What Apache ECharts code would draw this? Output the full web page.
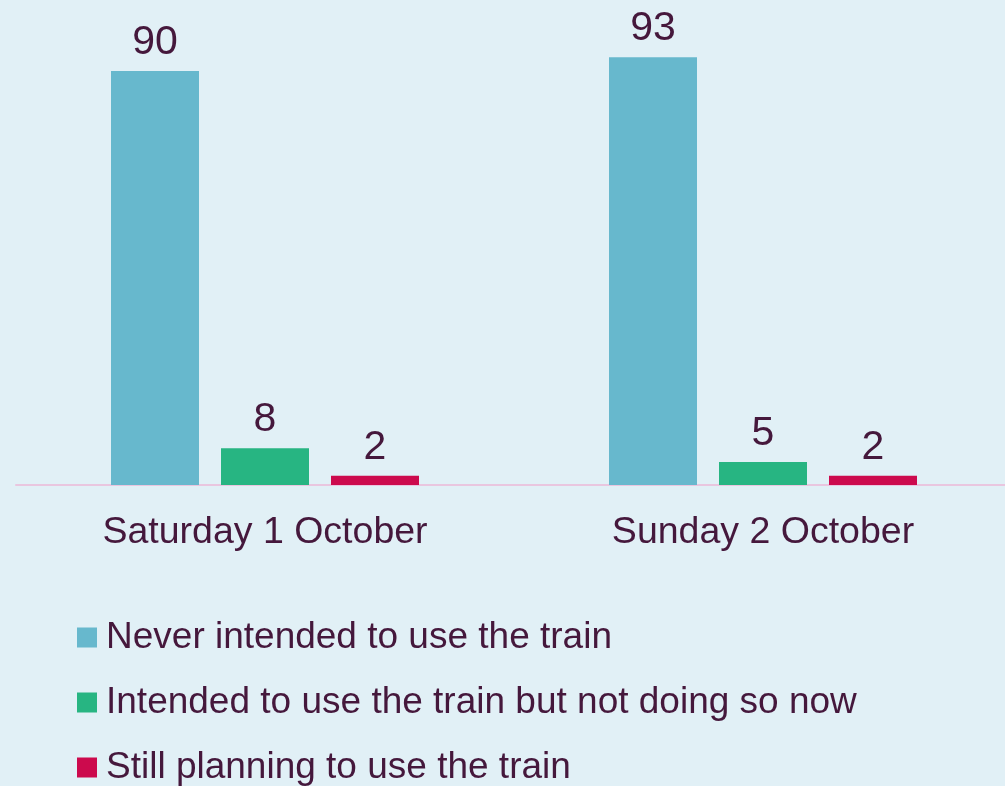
<!DOCTYPE html>
<html>
<head>
<meta charset="utf-8">
<style>
    html, body { margin: 0; padding: 0; background: #e1f0f6; }
    #chart { width: 1005px; height: 786px; }
</style>
</head>
<body>
<div id="chart"></div>
<script src="https://cdn.jsdelivr.net/npm/echarts@6/dist/echarts.min.js"></script>
<script>
    // data
    var days = ['Saturday 1 October', 'Sunday 2 October'];
    var neverIntended = [90, 93];
    var intendedNotNow = [8, 5];
    var stillPlanning = [2, 2];
    var seriesNames = [
        'Never intended to use the train',
        'Intended to use the train but not doing so now',
        'Still planning to use the train'
    ];

    var textColor = '#45183c';
    var font = '"Liberation Sans", Arial, sans-serif';

    var chart = echarts.init(document.getElementById('chart'));

    function makeBar(name, values, color) {
        return {
            name: name,
            type: 'bar',
            data: values,
            barWidth: 88,
            barGap: '25%',
            itemStyle: { color: color },
            label: {
                show: true,
                position: 'top',
                distance: 8,
                color: textColor,
                fontSize: 41,
                fontFamily: font
            }
        };
    }

    var option = {
        backgroundColor: '#e1f0f6',
        animation: false,
        grid: { left: 16, top: 25, width: 996, height: 460, outerBoundsMode: 'none' },
        legend: {
            orient: 'vertical',
            left: 72,
            top: 614,
            height: 300,
            icon: 'rect',
            itemWidth: 20,
            itemHeight: 20,
            itemGap: 28,
            textStyle: { color: textColor, fontSize: 37, fontFamily: font, padding: [0, 0, 0, 4] },
            data: seriesNames
        },
        xAxis: {
            type: 'category',
            data: days,
            axisLine: { lineStyle: { color: '#e9c6df', width: 2 } },
            axisTick: { show: false },
            axisLabel: { color: textColor, fontSize: 37.5, fontFamily: font, margin: 29 }
        },
        yAxis: {
            type: 'value',
            min: 0,
            max: 100,
            show: false,
            splitLine: { show: false }
        },
        series: [
            makeBar(seriesNames[0], neverIntended, '#67b8cd'),
            makeBar(seriesNames[1], intendedNotNow, '#27b582'),
            makeBar(seriesNames[2], stillPlanning, '#cc0a4d')
        ]
    };
    chart.setOption(option);
</script>
</body>
</html>
